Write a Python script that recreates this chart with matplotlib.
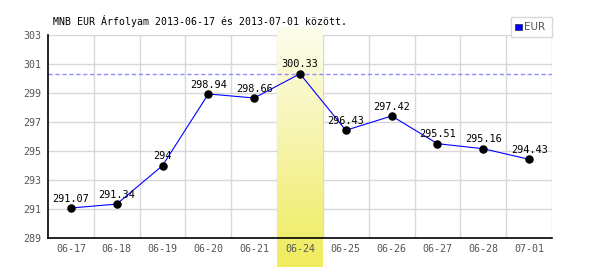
import numpy as np
import matplotlib.pyplot as plt
from matplotlib.patches import Rectangle
from matplotlib.colors import LinearSegmentedColormap

dates = ['06-17', '06-18', '06-19', '06-20', '06-21', '06-24',
         '06-25', '06-26', '06-27', '06-28', '07-01']
rates = [291.07, 291.34, 294, 298.94, 298.66, 300.33,
         296.43, 297.42, 295.51, 295.16, 294.43]
labels = ['291.07', '291.34', '294', '298.94', '298.66', '300.33',
          '296.43', '297.42', '295.51', '295.16', '294.43']
yticks = [289, 291, 293, 295, 297, 299, 301, 303]
highlight = '06-24'

mono = 'DejaVu Sans Mono'

fig = plt.figure(figsize=(6, 2.7), dpi=100)
ax = fig.add_axes([0.08, 0.1185, 0.84, 0.7515])

n = len(dates)
x = np.arange(n)

# grid
for v in yticks:
    ax.axhline(v, color='#d8d8d8', lw=1, zorder=1)
for i in range(n):
    ax.axvline(i + 0.5, color='#d8d8d8', lw=1, zorder=1)

# yellow gradient band for the highlighted day (reaches past the axes)
hi = dates.index(highlight)
grad = np.linspace(0, 1, 256).reshape(-1, 1)
cmap = LinearSegmentedColormap.from_list('yel', ['#efec5c', '#f6f4a8', '#fdfdee'])
im = ax.imshow(grad, aspect='auto', cmap=cmap, origin='lower',
               extent=[hi - 0.5, hi + 0.5, 287.0, 303.5], zorder=1.5)
im.set_clip_on(False)

ax.set_xlim(-0.5, n - 0.5)
ax.set_ylim(289, 303)

ax.axhline(max(rates), color='#8c8cff', lw=1, ls=(0, (3, 2)), zorder=2)

ax.plot(x, rates, color='#0000ff', lw=0.8, zorder=3)
ax.scatter(x, rates, s=26, color='black', zorder=4)

for i in range(n):
    ax.annotate(labels[i], (x[i], rates[i]), xytext=(0, 4.6),
                textcoords='offset points', ha='center', va='baseline',
                fontsize=7.4, family=mono, color='black', zorder=5)

for s in ['top', 'right']:
    ax.spines[s].set_visible(False)
for s in ['left', 'bottom']:
    ax.spines[s].set_color('black')
    ax.spines[s].set_linewidth(1.2)
    ax.spines[s].set_zorder(6)

ax.set_xticks(x)
ax.set_xticklabels(dates, family=mono, fontsize=7.2, color='#555555')
ax.set_yticks(yticks)
ax.set_yticklabels([str(v) for v in yticks], family=mono, fontsize=7.2, color='#555555')
ax.tick_params(length=0)
ax.tick_params(axis='x', pad=4)
ax.tick_params(axis='y', pad=4.5)

fig.text(53 / 600, 1 - 21 / 270, 'MNB EUR Árfolyam 2013-06-17 és 2013-07-01 között.',
         family=mono, fontsize=7.1, va='center', ha='left')

# legend box
fig.patches.append(Rectangle((511 / 600, 1 - 37 / 270), 41 / 600, 20 / 270,
                             transform=fig.transFigure, facecolor='white',
                             edgecolor='#d8d8d8', lw=1))
fig.patches.append(Rectangle((515 / 600, 1 - 30 / 270), 7 / 600, 6.5 / 270,
                             transform=fig.transFigure, facecolor='#0000ff',
                             edgecolor='#333366', lw=0.6))
fig.text(524 / 600, 1 - 27.5 / 270, 'EUR', fontsize=7.5, color='#555555',
         va='center', ha='left')

fig.savefig('out.png', dpi=100)
